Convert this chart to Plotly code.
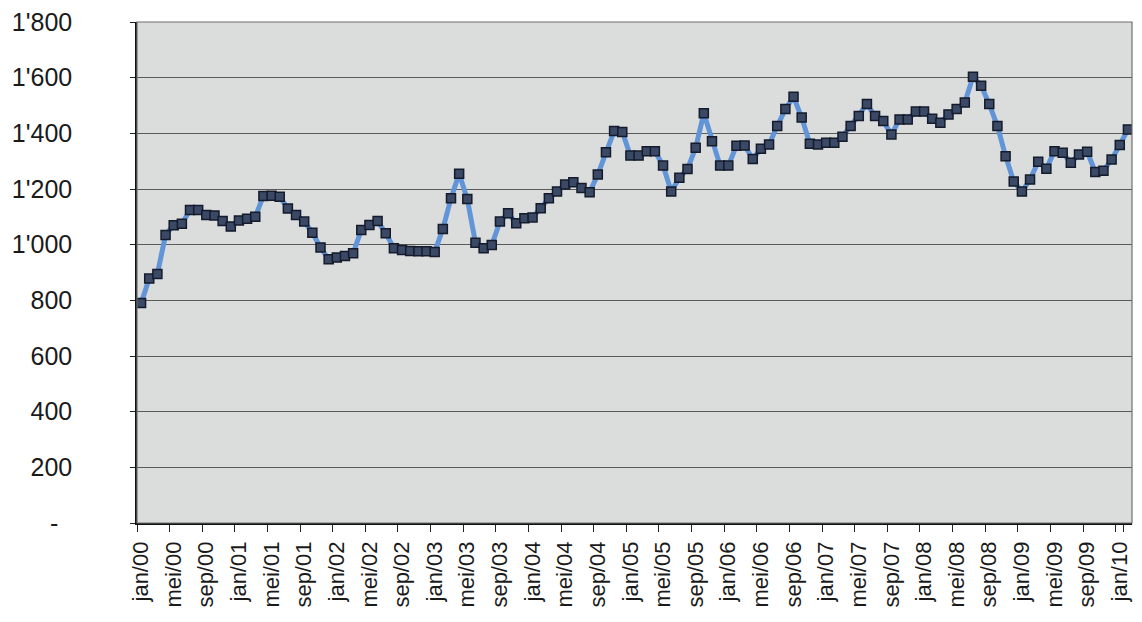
import plotly.graph_objects as go

# Monthly categories jan/00 .. feb/10 (Dutch month abbreviations)
month_names = ["jan", "feb", "mrt", "apr", "mei", "jun",
               "jul", "aug", "sep", "okt", "nov", "dec"]
years = ["00", "01", "02", "03", "04", "05", "06", "07", "08", "09", "10"]
categories = [f"{m}/{y}" for y in years for m in month_names][:122]

values = [
    790, 878, 895, 1035, 1070, 1075, 1125, 1125, 1107, 1105, 1085, 1065,   # 2000
    1087, 1093, 1100, 1175, 1176, 1172, 1130, 1107, 1083, 1043, 990, 948,  # 2001
    954, 959, 969, 1053, 1071, 1085, 1041, 987, 981, 977, 976, 976,        # 2002
    974, 1056, 1167, 1255, 1164, 1007, 987, 999, 1083, 1113, 1077, 1095,   # 2003
    1098, 1131, 1167, 1191, 1216, 1224, 1204, 1188, 1252, 1332, 1408, 1405,  # 2004
    1320, 1320, 1336, 1336, 1284, 1191, 1240, 1272, 1348, 1472, 1372, 1284,  # 2005
    1284, 1355, 1356, 1308, 1345, 1360, 1426, 1487, 1531, 1457, 1363, 1360,  # 2006
    1366, 1366, 1388, 1426, 1462, 1505, 1462, 1444, 1396, 1450, 1450, 1478,  # 2007
    1478, 1452, 1438, 1468, 1487, 1511, 1603, 1571, 1505, 1426, 1318, 1227,  # 2008
    1191, 1234, 1298, 1273, 1336, 1330, 1294, 1324, 1334, 1261, 1266, 1306,  # 2009
    1358, 1414,                                                              # 2010
]

tick_labels = [
    "jan/00", "mei/00", "sep/00", "jan/01", "mei/01", "sep/01", "jan/02", "mei/02",
    "sep/02", "jan/03", "mei/03", "sep/03", "jan/04", "mei/04", "sep/04", "jan/05",
    "mei/05", "sep/05", "jan/06", "mei/06", "sep/06", "jan/07", "mei/07", "sep/07",
    "jan/08", "mei/08", "sep/08", "jan/09", "mei/09", "sep/09", "jan/10",
]

y_ticks = [0, 200, 400, 600, 800, 1000, 1200, 1400, 1600, 1800]


def fmt(v):
    if v == 0:
        return "-\u00a0\u00a0"
    return f"{v:,}".replace(",", "'")


y_ticktext = [fmt(v) for v in y_ticks]

FONT = "Liberation Sans, Arial, sans-serif"

fig = go.Figure()
fig.add_trace(go.Scatter(
    x=categories,
    y=values,
    mode="lines+markers",
    line=dict(color="#6294d8", width=5),
    marker=dict(symbol="square", size=9, color="#3a4966",
                line=dict(color="#151b2a", width=1.5)),
    showlegend=False,
    hoverinfo="x+y",
))

# page body adds an 8px offset, so the figure is slightly smaller than the window
fig.update_layout(
    width=1134,
    height=616,
    margin=dict(l=129, r=10, t=14, b=101),
    paper_bgcolor="white",
    plot_bgcolor="#dadddc",
    font=dict(family=FONT, size=23, color="black"),
    shapes=[dict(type="rect", xref="paper", yref="paper", x0=0, x1=1, y0=0, y1=1,
                 line=dict(color="#6f6f6f", width=1.2), layer="above")],
)

fig.update_xaxes(
    type="category",
    categoryorder="array",
    categoryarray=categories,
    range=[-0.5, len(categories) - 0.5],
    tickmode="array",
    tickvals=tick_labels,
    ticktext=tick_labels,
    tickson="boundaries",
    ticks="outside",
    ticklen=7,
    tickwidth=1,
    tickcolor="#222",
    tickangle=-90,
    showgrid=False,
    showline=True,
    linecolor="#111",
    linewidth=1.5,
    tickfont=dict(family=FONT, size=22, color="#1a1a1a"),
    ticklabelstandoff=8,
    automargin=False,
    ticklabeloverflow="allow",
)

fig.update_yaxes(
    range=[0, 1800],
    tickmode="array",
    tickvals=y_ticks,
    ticktext=y_ticktext,
    ticks="outside",
    ticklen=5,
    tickwidth=1,
    tickcolor="#222",
    showgrid=True,
    gridcolor="#5a5a5a",
    gridwidth=1,
    zeroline=False,
    showline=True,
    linecolor="#111",
    linewidth=1.5,
    tickfont=dict(family=FONT, size=25, color="#1a1a1a"),
    ticklabelstandoff=53,
    automargin=False,
    ticklabeloverflow="allow",
)

fig.write_html("out.html")
